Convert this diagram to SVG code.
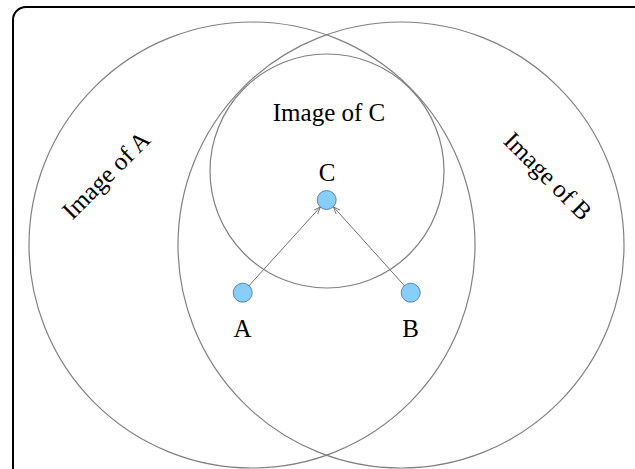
<svg xmlns="http://www.w3.org/2000/svg" width="635" height="469" viewBox="0 0 635 469">
<style>
.region{fill:none;stroke:#808080;stroke-width:1.2}
.node{fill:#87cefa;stroke:#4a6f8a;stroke-width:0.8}
.lbl{font-family:"Liberation Serif","Times New Roman",serif;font-size:25px;fill:#000;text-anchor:middle}
.edge{stroke:#6e6e6e;stroke-width:1;fill:none;marker-end:url(#arr)}
</style>
<defs>
<marker id="arr" viewBox="0 0 10 10" refX="10" refY="5" markerWidth="7" markerHeight="7" orient="auto" markerUnits="userSpaceOnUse">
<path d="M0,1 L10,5 L0,9" fill="none" stroke="#6e6e6e" stroke-width="1.2"/>
</marker>
</defs>
<rect x="0" y="0" width="635" height="469" fill="#fff"/>
<rect x="13" y="7" width="640" height="520" rx="13" ry="13" fill="none" stroke="#000" stroke-width="2"/>
<g id="imageA">
<circle class="region" cx="252" cy="245" r="223"/>
<text class="lbl" transform="translate(112,181) rotate(-45)">Image of A</text>
</g>
<g id="imageB">
<circle class="region" cx="401" cy="245" r="223"/>
<text class="lbl" transform="translate(542,182) rotate(45)">Image of B</text>
</g>
<g id="imageC">
<circle class="region" cx="327" cy="171" r="117"/>
<text class="lbl" x="329" y="121">Image of C</text>
</g>
<g id="edges">
<line class="edge" x1="242.7" y1="292.7" x2="320.3" y2="207"/>
<line class="edge" x1="410.7" y1="292.7" x2="333.5" y2="206.9"/>
</g>
<g id="nodeA">
<circle class="node" cx="242.7" cy="292.7" r="9.5"/>
<text class="lbl" x="242.5" y="337">A</text>
</g>
<g id="nodeB">
<circle class="node" cx="410.7" cy="292.7" r="9.5"/>
<text class="lbl" x="410.5" y="337">B</text>
</g>
<g id="nodeC">
<circle class="node" cx="326.7" cy="200" r="9.5"/>
<text class="lbl" x="327" y="181">C</text>
</g>
</svg>
